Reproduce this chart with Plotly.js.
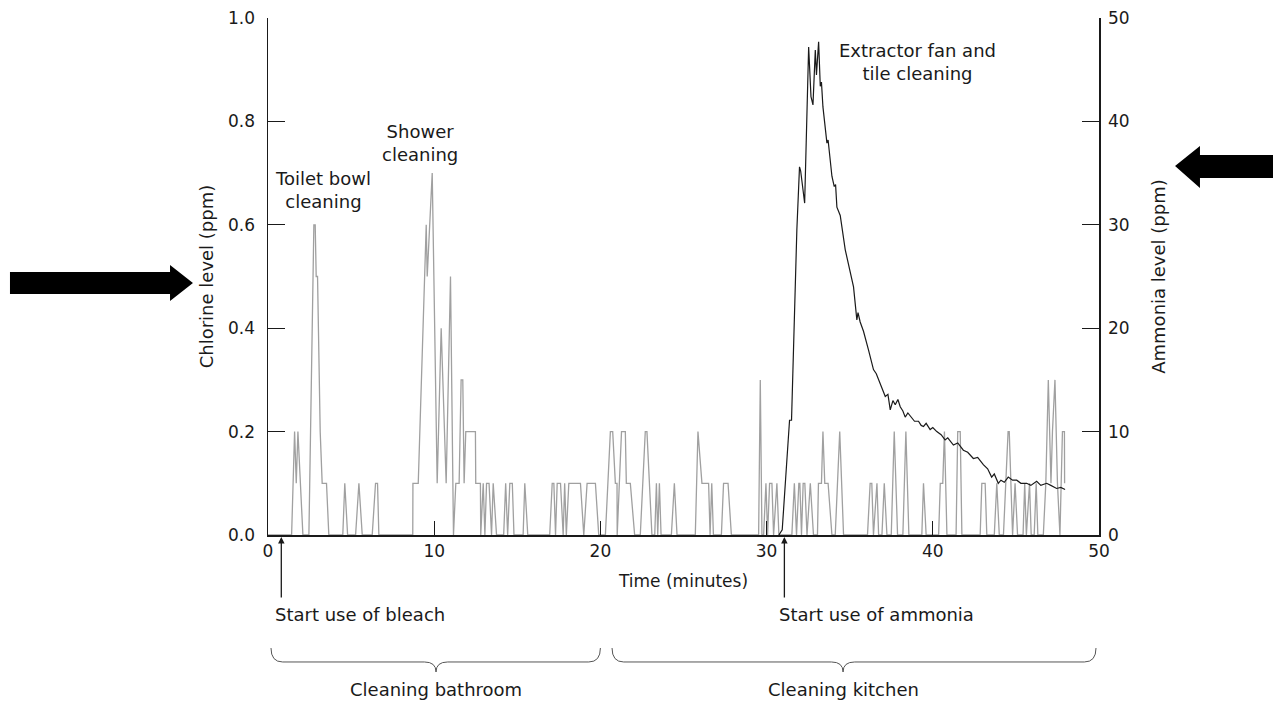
<!DOCTYPE html>
<html>
<head>
<meta charset="utf-8">
<script src="https://cdn.plot.ly/plotly-3.0.1.min.js"></script>
<style>
  html, body { margin: 0; padding: 0; background: #ffffff; }
  #chart { width: 1273px; height: 701px; }
</style>
</head>
<body>
<div id="chart"></div>
<script>
// ---- Data ----
// Chlorine level (ppm), left axis
const chlorineTime = [
  0, 1.42, 1.6, 1.7, 1.8, 2.1,
  2.46, 2.76, 2.84, 2.9, 2.98, 3.14, 3.26, 3.52, 3.66,
  4.5, 4.62, 4.79, 5.27, 5.47, 5.67, 6.27, 6.47, 6.59, 6.67,
  8.71, 8.72, 9.04, 9.52, 9.58, 9.88, 10.18, 10.42, 10.72, 10.98, 11.16,
  11.3, 11.5, 11.62, 11.72, 11.8, 11.9, 12.48, 12.5, 12.78, 12.8,
  12.95, 13.05, 13.15, 13.3, 13.45, 13.55, 13.75,
  14.18, 14.3, 14.42, 14.55, 14.7, 14.8, 15.35, 15.45, 15.63,
  16.95, 17.1, 17.2, 17.3, 17.4, 17.6, 17.76, 17.85, 17.95, 18.1, 18.8, 19.0, 19.2, 19.7, 19.9,
  20.3, 20.6, 20.74, 20.9, 21.0, 21.01, 21.27, 21.5, 21.56, 21.8, 22.06,
  22.4, 22.7, 22.8, 23.1, 23.27, 23.37, 23.45, 23.55, 23.65,
  24.27, 24.45, 24.61, 25.71, 25.87, 26.11, 26.51, 26.6, 26.7, 26.8,
  27.28, 27.41, 27.68, 27.88,
  29.52, 29.62, 29.72, 29.82, 29.96, 30.06, 30.18, 30.32, 30.42, 30.62, 30.74,
  31.52, 31.67, 31.8, 31.94, 32.0, 32.1, 32.2, 32.3, 32.43, 32.63, 32.82,
  33.06, 33.12, 33.3, 33.39, 33.5, 33.7, 33.93, 34.13, 34.4, 34.63,
  36.07, 36.23, 36.33, 36.43, 36.64, 36.74, 36.94, 37.08, 37.24,
  37.5, 37.68, 37.88, 38.2, 38.38, 38.56, 39.34, 39.44, 39.6,
  40.35, 40.45, 40.6, 40.7, 40.85, 41.4, 41.5, 41.65, 41.75,
  42.85, 42.95, 43.15, 43.25, 43.7, 43.85, 44.0,
  44.25, 44.53, 44.6, 44.8, 44.95, 45.1,
  45.43, 45.53, 45.63, 45.82, 45.92, 46.1, 46.22, 46.32,
  46.65, 46.8, 46.95, 47.11, 47.2, 47.35, 47.5, 47.65, 47.8, 47.92, 47.93
];
const chlorineLevel = [
  0, 0, 0.2, 0.1, 0.2, 0,
  0, 0.6, 0.6, 0.5, 0.5, 0.2, 0.1, 0.1, 0,
  0, 0.1, 0, 0, 0.1, 0, 0, 0.1, 0.1, 0,
  0, 0.1, 0.1, 0.6, 0.5, 0.7, 0.1, 0.4, 0.1, 0.5, 0,
  0.1, 0.1, 0.3, 0.3, 0.1, 0.2, 0.2, 0.1, 0.1, 0,
  0.1, 0, 0.1, 0.1, 0, 0.1, 0,
  0, 0.1, 0, 0.1, 0.1, 0, 0, 0.1, 0,
  0, 0.1, 0.1, 0, 0.1, 0.1, 0, 0.1, 0, 0.1, 0.1, 0, 0.1, 0.1, 0,
  0, 0.2, 0.2, 0.1, 0.1, 0, 0.2, 0.2, 0.1, 0.1, 0,
  0, 0.2, 0.2, 0, 0, 0.1, 0, 0.1, 0,
  0, 0.1, 0, 0, 0.2, 0.1, 0.1, 0, 0.1, 0,
  0, 0.1, 0.1, 0,
  0, 0.3, 0, 0, 0.1, 0, 0.1, 0.1, 0, 0.1, 0,
  0, 0.1, 0, 0.1, 0.1, 0, 0.1, 0.1, 0, 0.1, 0,
  0, 0.1, 0.1, 0.2, 0.1, 0.1, 0, 0, 0.2, 0,
  0, 0.1, 0.1, 0, 0.1, 0, 0, 0.1, 0,
  0, 0.2, 0, 0, 0.2, 0, 0, 0.1, 0,
  0, 0.1, 0.1, 0.2, 0, 0, 0.2, 0.2, 0,
  0, 0.1, 0.1, 0, 0, 0.1, 0,
  0, 0.2, 0.2, 0, 0.1, 0,
  0, 0.1, 0, 0.1, 0, 0, 0.1, 0,
  0, 0.1, 0.3, 0.1, 0.2, 0.3, 0.1, 0, 0.2, 0.2, 0.1
];

// Ammonia level (ppm), right axis
const ammoniaTime = [
  30.74, 30.94, 31.38, 31.5, 31.82, 31.98, 32.05, 32.29, 32.53, 32.67, 32.79, 32.93, 33.0, 33.13,
  33.23, 33.3, 33.39, 33.53, 33.63, 33.7, 33.79, 33.93, 34.07, 34.15, 34.23, 34.43,
  34.73, 35.03, 35.23, 35.43, 35.5, 35.63, 35.83, 36.13, 36.43, 36.6, 36.84, 37.14, 37.3, 37.44,
  37.6, 37.74, 37.9, 38.04, 38.2, 38.34, 38.5, 38.74, 38.9, 39.14, 39.3, 39.44, 39.6, 39.84,
  40.0, 40.24, 40.5, 40.74, 40.9, 41.24, 41.5, 41.84, 42.1, 42.44, 42.7, 43.04, 43.3, 43.54,
  43.7, 43.94, 44.1, 44.3, 44.54, 44.8, 45.05, 45.3, 45.65, 45.9, 46.25, 46.5, 46.85, 47.1,
  47.45, 47.7, 47.96
];
const ammoniaLevel = [
  0, 0.5, 11.1, 11.1, 29.5, 35.6, 35.2, 32.1, 47.2, 42.4, 41.6, 46.9, 44.5, 47.7,
  43.4, 43.8, 41.4, 39.2, 37.9, 38.2, 36.6, 34.7, 33.7, 33.9, 31.7, 30.9,
  27.6, 25.6, 24.0, 20.8, 21.5, 20.6, 19.7, 17.9, 16.0, 15.6, 14.7, 13.4, 13.6, 12.1,
  13.0, 12.6, 13.1, 12.4, 12.0, 11.4, 11.8, 11.3, 11.0, 11.0, 10.6, 10.5, 10.8, 10.2,
  10.4, 10.0, 9.7, 9.2, 9.4, 8.7, 8.9, 8.2, 8.0, 7.4, 7.5, 6.8, 6.4, 5.6,
  5.9, 5.0, 5.3, 5.1, 5.6, 5.3, 5.3, 5.0, 5.0, 4.8, 5.2, 4.8, 5.0, 4.8,
  4.5, 4.6, 4.4
];

// Axis ticks
const timeTicks = [0, 10, 20, 30, 40, 50];
const chlorineTicks = [0, 0.2, 0.4, 0.6, 0.8, 1.0];
const chlorineTickText = ['0.0', '0.2', '0.4', '0.6', '0.8', '1.0'];
const ammoniaTicks = [0, 10, 20, 30, 40, 50];

// Event markers (minutes)
const bleachStart = 0.8;
const ammoniaStart = 31.07;

const FONT = 'DejaVu Sans, sans-serif';
const INK = '#1a1a1a';

const traces = [
  {
    x: chlorineTime, y: chlorineLevel, type: 'scatter', mode: 'lines',
    line: { color: '#a0a0a0', width: 1.3 }, yaxis: 'y', hoverinfo: 'skip'
  },
  {
    x: ammoniaTime, y: ammoniaLevel, type: 'scatter', mode: 'lines',
    line: { color: INK, width: 1.2 }, yaxis: 'y2', hoverinfo: 'skip'
  }
];

// helpers for paper coordinates (x: minutes/50; y: chlorine units)
const px = t => t / 50;

function bracePath(x0, x1, xm, top, flat, cusp, dx) {
  return `M ${x0},${top} Q ${x0},${flat} ${x0 + dx},${flat} L ${xm - dx},${flat} ` +
         `Q ${xm},${flat} ${xm},${cusp} Q ${xm},${flat} ${xm + dx},${flat} ` +
         `L ${x1 - dx},${flat} Q ${x1},${flat} ${x1},${top}`;
}

const shapes = [
  { type: 'path', xref: 'paper', yref: 'paper',
    path: bracePath(0.0036, 0.4, 0.2022, -0.2186, -0.2456, -0.265, 0.014),
    line: { color: '#555', width: 1 } },
  { type: 'path', xref: 'paper', yref: 'paper',
    path: bracePath(0.414, 0.9964, 0.692, -0.2186, -0.2456, -0.265, 0.014),
    line: { color: '#555', width: 1 } },
  // big black arrow on the left, pointing right
  { type: 'path', xref: 'paper', yref: 'paper', fillcolor: '#000', line: { width: 0 },
    path: 'M -0.3105,0.5087 L -0.1179,0.5087 L -0.1179,0.5222 L -0.0903,0.4874 ' +
          'L -0.1179,0.4526 L -0.1179,0.4662 L -0.3105,0.4662 Z' },
  // big black arrow on the right, pointing left
  { type: 'path', xref: 'paper', yref: 'paper', fillcolor: '#000', line: { width: 0 },
    path: 'M 1.2094,0.735 L 1.1215,0.735 L 1.1215,0.7524 L 1.0915,0.7137 ' +
          'L 1.1215,0.6712 L 1.1215,0.6905 L 1.2094,0.6905 Z' }
];

const textFont = { family: FONT, size: 18, color: INK };

const annotations = [
  { x: 3.29, y: 0.667, xref: 'x', yref: 'y', text: 'Toilet bowl<br>cleaning',
    xanchor: 'center', yanchor: 'middle', showarrow: false, font: textFont, align: 'center' },
  { x: 9.17, y: 0.758, xref: 'x', yref: 'y', text: 'Shower<br>cleaning',
    xanchor: 'center', yanchor: 'middle', showarrow: false, font: textFont, align: 'center' },
  { x: 39.08, y: 0.914, xref: 'x', yref: 'y', text: 'Extractor fan and<br>tile cleaning',
    xanchor: 'center', yanchor: 'middle', showarrow: false, font: textFont, align: 'center' },
  { x: px(bleachStart), y: -0.004, xref: 'paper', yref: 'paper', text: '',
    showarrow: true, ax: 0, ay: 62, arrowhead: 2, arrowsize: 1, arrowwidth: 1.3, arrowcolor: INK },
  { x: px(ammoniaStart), y: -0.004, xref: 'paper', yref: 'paper', text: '',
    showarrow: true, ax: 0, ay: 62, arrowhead: 2, arrowsize: 1, arrowwidth: 1.3, arrowcolor: INK },
  { x: 0.006, y: -0.1547, xref: 'paper', yref: 'paper', text: 'Start use of bleach',
    xanchor: 'left', yanchor: 'middle', showarrow: false, font: textFont },
  { x: 0.6125, y: -0.1547, xref: 'paper', yref: 'paper', text: 'Start use of ammonia',
    xanchor: 'left', yanchor: 'middle', showarrow: false, font: textFont },
  { x: 0.2022, y: -0.2998, xref: 'paper', yref: 'paper', text: 'Cleaning bathroom',
    xanchor: 'center', yanchor: 'middle', showarrow: false, font: textFont },
  { x: 0.692, y: -0.2998, xref: 'paper', yref: 'paper', text: 'Cleaning kitchen',
    xanchor: 'center', yanchor: 'middle', showarrow: false, font: textFont }
];

const axisCommon = {
  showgrid: false, zeroline: false, showline: true, linecolor: INK, linewidth: 1.5,
  ticks: 'inside', tickcolor: INK, tickwidth: 1.3,
  tickfont: { family: FONT, size: 17, color: INK }, fixedrange: true
};

const layout = {
  width: 1273, height: 701,
  margin: { l: 268, r: 174, t: 18, b: 166, pad: 0 },
  paper_bgcolor: '#ffffff', plot_bgcolor: '#ffffff',
  showlegend: false,
  font: { family: FONT, color: INK },
  xaxis: Object.assign({}, axisCommon, {
    range: [0, 50], tickvals: timeTicks, ticklen: 14,
    title: { text: 'Time (minutes)', font: { family: FONT, size: 17, color: INK }, standoff: 15 }
  }),
  yaxis: Object.assign({}, axisCommon, {
    range: [0, 1], tickvals: chlorineTicks, ticktext: chlorineTickText, ticklen: 17,
    ticklabelstandoff: 8,
    title: { text: 'Chlorine level (ppm)', font: { family: FONT, size: 18, color: INK }, standoff: 10 }
  }),
  yaxis2: Object.assign({}, axisCommon, {
    range: [0, 50], tickvals: ammoniaTicks, ticklen: 17, overlaying: 'y', side: 'right',
    ticklabelstandoff: 4,
    title: { text: 'Ammonia level (ppm)', font: { family: FONT, size: 18, color: INK }, standoff: 24 }
  }),
  shapes: shapes,
  annotations: annotations
};

Plotly.newPlot('chart', traces, layout, { staticPlot: true, displayModeBar: false });
</script>
</body>
</html>
